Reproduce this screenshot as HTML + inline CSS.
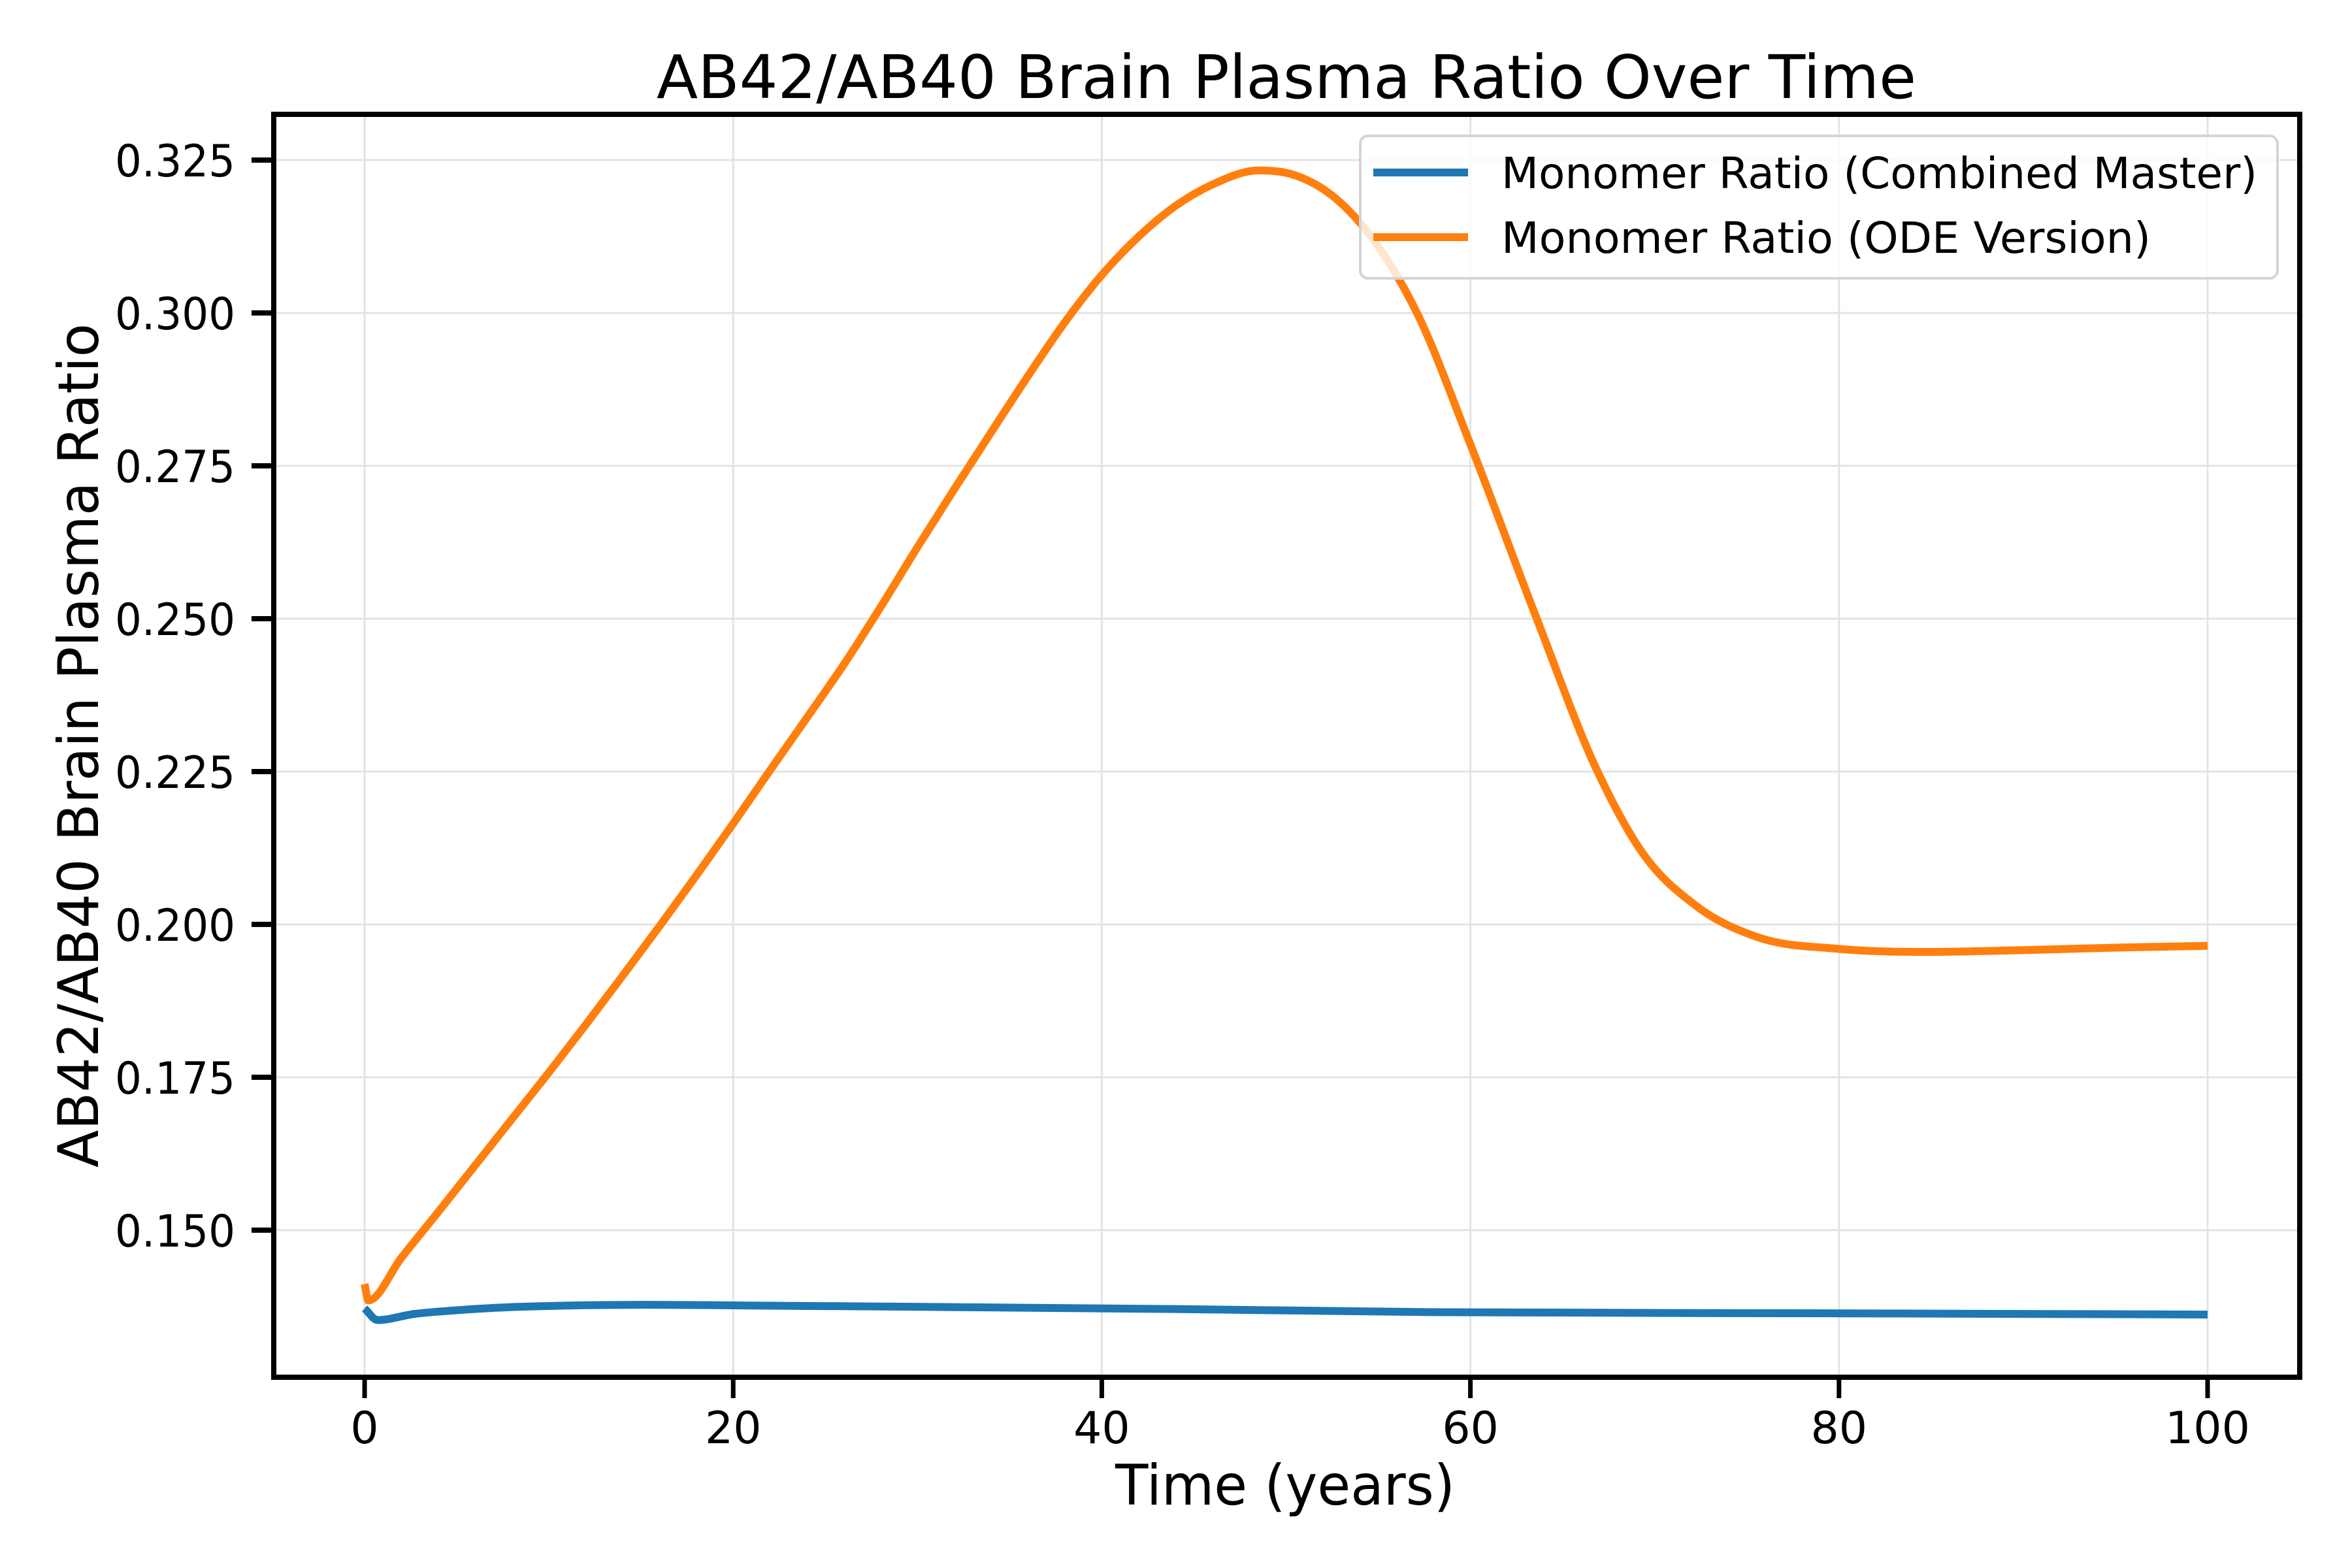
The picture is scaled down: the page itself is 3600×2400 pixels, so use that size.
<!DOCTYPE html>
<html><head><meta charset="utf-8"><style>html,body{margin:0;padding:0;background:#fff}svg{display:block}</style></head>
<body>
<svg id="chart" width="3600" height="2400" viewBox="0 0 3600 2400" xmlns="http://www.w3.org/2000/svg" font-family="'DejaVu Sans','Liberation Sans',sans-serif">
<rect x="0" y="0" width="3600" height="2400" fill="#fff"/>
<g id="grid"></g>
<g id="series"></g>
<g id="axes"></g>
<text x="1969" y="150" font-size="92" text-anchor="middle" textLength="1928" lengthAdjust="spacingAndGlyphs">AB42/AB40 Brain Plasma Ratio Over Time</text>
<text x="1967" y="2303" font-size="86" text-anchor="middle" textLength="520" lengthAdjust="spacingAndGlyphs">Time (years)</text>
<text transform="translate(150,1141) rotate(-90)" font-size="86" text-anchor="middle" textLength="1292" lengthAdjust="spacingAndGlyphs">AB42/AB40 Brain Plasma Ratio</text>
<g>
<rect x="2082" y="208" width="1404" height="218" rx="12" fill="#fff" fill-opacity="0.8" stroke="#d4d4d4" stroke-width="4"/>
<line x1="2102" y1="264" x2="2247" y2="264" stroke="#1f77b4" stroke-width="12"/>
<text x="2298" y="288" font-size="66" textLength="1157" lengthAdjust="spacingAndGlyphs">Monomer Ratio (Combined Master)</text>
<line x1="2102" y1="363" x2="2247" y2="363" stroke="#ff7f0e" stroke-width="12"/>
<text x="2298" y="387" font-size="66" textLength="994" lengthAdjust="spacingAndGlyphs">Monomer Ratio (ODE Version)</text>
</g>
</svg>
<script>
const xTicks = [0, 20, 40, 60, 80, 100];
const yTicks = [0.150, 0.175, 0.200, 0.225, 0.250, 0.275, 0.300, 0.325];
const yTickLabels = ["0.150", "0.175", "0.200", "0.225", "0.250", "0.275", "0.300", "0.325"];
const tCombined = [0, 0.7, 2.7, 5, 7.8, 10, 15.2, 20, 28.5, 44, 57.7, 80, 100];
const vCombined = [0.1372, 0.1353, 0.1363, 0.1369, 0.1374, 0.1376, 0.1378, 0.1377, 0.1375, 0.1371, 0.1366, 0.1364, 0.1362];
const tOde = [0, 0.2, 2, 4, 6, 8, 10, 12, 14, 16, 18, 20, 22, 24, 26, 28, 30, 32, 34, 36, 38, 40, 42, 44, 46, 48.5, 50.5, 52.7, 54.8, 57.1, 60, 63.6, 66.9, 69.2, 72.4, 75.5, 80, 84.7, 90, 95, 100];
const vOde = [0.1412, 0.1385, 0.1455, 0.1530, 0.1606, 0.1682, 0.1758, 0.1836, 0.1916, 0.1997, 0.2080, 0.2165, 0.2252, 0.2338, 0.2425, 0.2519, 0.2617, 0.2712, 0.2805, 0.2897, 0.2985, 0.3062, 0.3125, 0.3175, 0.3210, 0.3233, 0.3225, 0.3187, 0.3117, 0.3000, 0.2785, 0.2500, 0.2250, 0.2123, 0.2027, 0.1980, 0.1960, 0.1955, 0.1958, 0.1962, 0.1965];

const NS = "http://www.w3.org/2000/svg";
const L = 419, R = 3520, T = 175, B = 2108;
const xMin = -4.93, xMax = 105.0;
const yMin = 0.12595, yMax = 0.33248;
function sx(v) { return L + (v - xMin) / (xMax - xMin) * (R - L); }
function sy(v) { return B - (v - yMin) / (yMax - yMin) * (B - T); }
function mk(tag, attrs, parent) {
  const e = document.createElementNS(NS, tag);
  for (const k in attrs) e.setAttribute(k, attrs[k]);
  parent.appendChild(e);
  return e;
}
const grid = document.getElementById('grid');
const axes = document.getElementById('axes');
const series = document.getElementById('series');

xTicks.forEach(function (v) {
  const g = mk('line', {x1: sx(v), x2: sx(v), y1: T, y2: B, stroke: '#e3e3e3', 'stroke-width': 3}, grid);
  
  
  const t = mk('line', {x1: sx(v), x2: sx(v), y1: B, y2: B + 32, stroke: '#000', 'stroke-width': 7}, axes);
  
  
  const lb = mk('text', {x: sx(v), y: 2209, 'font-size': 68, 'text-anchor': 'middle'}, axes);
  lb.textContent = String(v);
  
  
});
yTicks.forEach(function (v, i) {
  const g = mk('line', {x1: L, x2: R, y1: sy(v), y2: sy(v), stroke: '#e3e3e3', 'stroke-width': 3}, grid);
  
  
  const t = mk('line', {x1: L - 34, x2: L, y1: sy(v), y2: sy(v), stroke: '#000', 'stroke-width': 8}, axes);
  
  
  const lb = mk('text', {x: 360, y: sy(v) + 25, 'font-size': 68, 'text-anchor': 'end', textLength: 184, lengthAdjust: 'spacingAndGlyphs'}, axes);
  lb.textContent = yTickLabels[i];
  
  
});
const frame = mk('rect', {x: L, y: T, width: R - L, height: B - T, fill: 'none', stroke: '#000', 'stroke-width': 8}, axes);



function pathFor(ts, vs) {
  const n = ts.length;
  const m = [];
  for (let i = 0; i < n; i++) {
    if (i === 0) m.push((vs[1] - vs[0]) / (ts[1] - ts[0]));
    else if (i === n - 1) m.push((vs[n - 1] - vs[n - 2]) / (ts[n - 1] - ts[n - 2]));
    else {
      const d0 = (vs[i] - vs[i - 1]) / (ts[i] - ts[i - 1]);
      const d1 = (vs[i + 1] - vs[i]) / (ts[i + 1] - ts[i]);
      if (d0 * d1 <= 0) m.push(0);
      else {
        const h0 = ts[i] - ts[i - 1], h1 = ts[i + 1] - ts[i];
        m.push((h1 * d0 + h0 * d1) / (h0 + h1));
      }
    }
  }
  let d = 'M' + sx(ts[0]) + ',' + sy(vs[0]);
  for (let i = 0; i < n - 1; i++) {
    const h = ts[i + 1] - ts[i];
    const c1t = ts[i] + h / 3, c1v = vs[i] + m[i] * h / 3;
    const c2t = ts[i + 1] - h / 3, c2v = vs[i + 1] - m[i + 1] * h / 3;
    d += ' C' + sx(c1t) + ',' + sy(c1v) + ' ' + sx(c2t) + ',' + sy(c2v) + ' ' + sx(ts[i + 1]) + ',' + sy(vs[i + 1]);
  }
  return d;
}
const lineC = mk('path', {d: pathFor(tCombined, vCombined), fill: 'none', stroke: '#1f77b4', 'stroke-width': 12, 'stroke-linejoin': 'round'}, series);


const lineO = mk('path', {d: pathFor(tOde, vOde), fill: 'none', stroke: '#ff7f0e', 'stroke-width': 12, 'stroke-linejoin': 'round'}, series);


</script>
</body></html>
